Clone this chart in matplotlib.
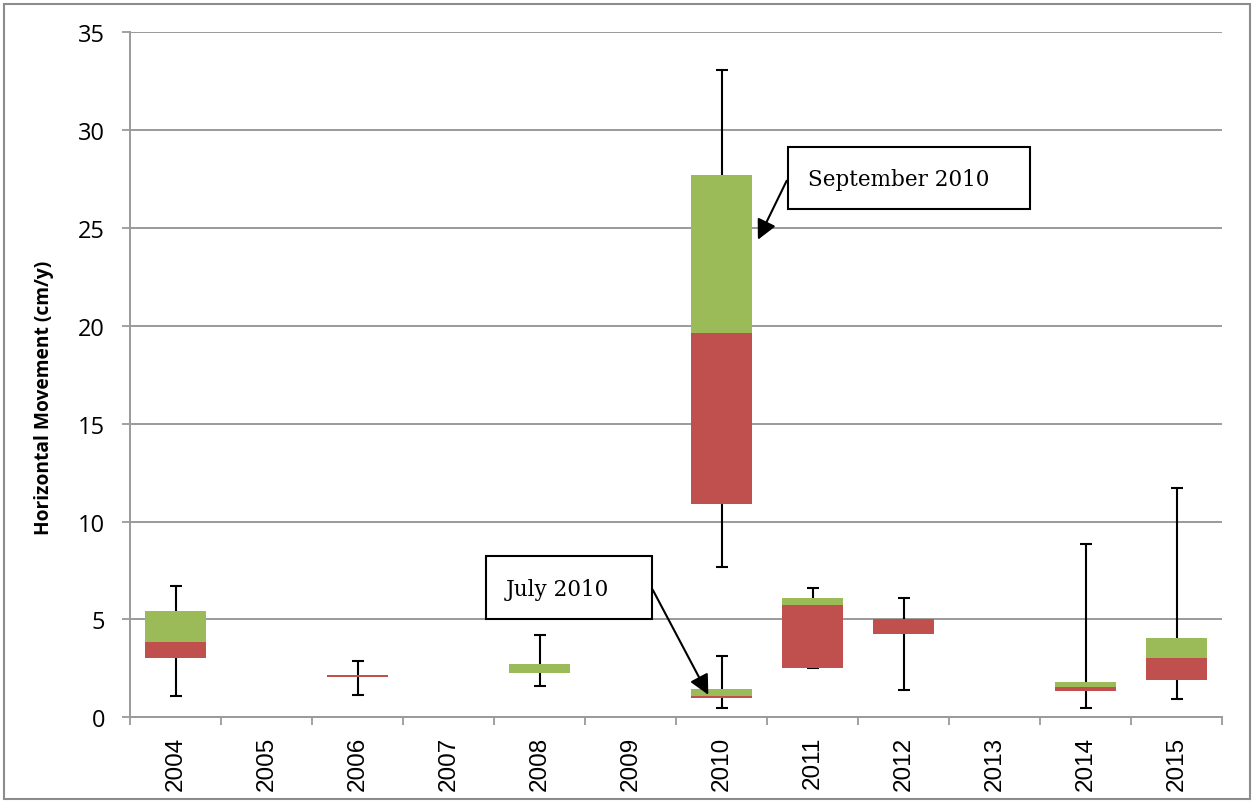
import numpy as np
import matplotlib
matplotlib.use("Agg")
import matplotlib.pyplot as plt
from matplotlib.patches import Rectangle

nan = np.nan
categories = ['2004', '2005', '2006', '2007', '2008', '2009', '2010',
              '2011', '2012', '2013', '2014', '2015']
wmin   = [1.10, nan, 1.14, nan, 1.60, nan, 0.46, 2.52, 1.41, nan, 0.49, 0.95]
q1     = [3.03, nan, 2.08, nan, 2.28, nan, 0.97, 2.52, 4.26, nan, 1.36, 1.91]
median = [3.83, nan, 2.18, nan, 2.28, nan, 1.07, 5.75, 5.02, nan, 1.56, 3.03]
q3     = [5.45, nan, 2.18, nan, 2.72, nan, 1.45, 6.10, 5.02, nan, 1.79, 4.05]
wmax   = [6.69, nan, 2.86, nan, 4.21, nan, 3.12, 6.61, 6.11, nan, 8.87, 11.70]

# September 2010 survey (drawn at the 2010 category)
sep_category = '2010'
sep_min, sep_q1, sep_median, sep_q3, sep_max = 7.70, 10.88, 19.62, 27.73, 33.09

RED = '#C0504D'
GREEN = '#9BBB59'
GRID = '#9A9A9A'

W, H = 1254, 803
fig = plt.figure(figsize=(W / 100, H / 100), dpi=100)
ax = fig.add_axes([130 / W, 1 - 718.3 / H, (1222 - 130) / W, (718.3 - 33.3) / H])

x = np.arange(len(categories))
wmin_a, q1_a, med_a, q3_a, wmax_a = map(np.array, (wmin, q1, median, q3, wmax))
valid = ~np.isnan(q1_a)

bw = 0.68
# whiskers (behind boxes)
ax.errorbar(x[valid], med_a[valid],
            yerr=[med_a[valid] - wmin_a[valid], wmax_a[valid] - med_a[valid]],
            fmt='none', ecolor='black', elinewidth=1.5, capsize=4.5, capthick=1.5, zorder=2)
ax.bar(x[valid], (med_a - q1_a)[valid], bottom=q1_a[valid], width=bw, color=RED,
       linewidth=0, zorder=3)
ax.bar(x[valid], (q3_a - med_a)[valid], bottom=med_a[valid], width=bw, color=GREEN,
       linewidth=0, zorder=3)

xs = categories.index(sep_category)
ax.errorbar([xs], [sep_median], yerr=[[sep_median - sep_min], [sep_max - sep_median]],
            fmt='none', ecolor='black', elinewidth=1.5, capsize=4.5, capthick=1.5, zorder=2)
ax.bar([xs], [sep_median - sep_q1], bottom=[sep_q1], width=bw, color=RED, linewidth=0, zorder=3)
ax.bar([xs], [sep_q3 - sep_median], bottom=[sep_median], width=bw, color=GREEN, linewidth=0, zorder=3)

ax.set_xlim(-0.5, len(categories) - 0.5)
ax.set_ylim(0, 35)
ax.set_yticks(np.arange(0, 36, 5))
ax.set_yticklabels([str(v) for v in range(0, 36, 5)], fontfamily='Open Sans', fontsize=17)
ax.yaxis.grid(True, color=GRID, linewidth=1.4, zorder=0)
ax.set_axisbelow(True)

ax.set_xticks(x)
ax.set_xticklabels(categories, rotation=90, fontfamily='Liberation Sans', fontsize=17.5, va='top')
ax.set_xticks(np.arange(-0.5, len(categories), 1), minor=True)
ax.tick_params(axis='x', which='major', length=0, pad=13.5)
ax.tick_params(axis='x', which='minor', length=6, width=1.3, color=GRID, direction='out')
ax.tick_params(axis='y', length=6, width=1.3, color=GRID, pad=12)

for s in ('top', 'right'):
    ax.spines[s].set_visible(False)
for s in ('left', 'bottom'):
    ax.spines[s].set_color(GRID)
    ax.spines[s].set_linewidth(1.4)

ax.set_ylabel('Horizontal Movement (cm/y)', fontfamily='Open Sans', fontweight='bold', fontsize=13.8)
ax.yaxis.set_label_coords((54 - 130) / (1222 - 130), 1 - (397.5 - 33.3) / (718.3 - 33.3))

# chart border
fig.patches.append(Rectangle((4 / W, 1 - 800 / H), 1246 / W, 795 / H, transform=fig.transFigure,
                             fill=False, edgecolor='#8C8C8C', linewidth=1.5))

def fx(px):
    return px / W

def fy(py):
    return 1 - py / H

# September annotation box
fig.patches.append(Rectangle((fx(787.5), fy(210)), (1030 - 787.5) / W, (210 - 147.7) / H,
                             transform=fig.transFigure, fill=True, facecolor='white',
                             edgecolor='black', linewidth=1.5, zorder=5))
fig.text(fx(808), fy(180), 'September 2010', fontfamily='DejaVu Serif', fontsize=15.5,
         va='center', ha='left', zorder=6)
ax.annotate('', xy=(xs + 0.40, 24.4), xycoords='data',
            xytext=(fx(786.7), fy(181.7)), textcoords='figure fraction',
            arrowprops=dict(arrowstyle='-|>', color='black', lw=1.5, mutation_scale=30,
                            shrinkA=0, shrinkB=0), zorder=6)

# July annotation box
fig.patches.append(Rectangle((fx(485.7), fy(620)), (652.3 - 485.7) / W, (620 - 557.3) / H,
                             transform=fig.transFigure, fill=True, facecolor='white',
                             edgecolor='black', linewidth=1.5, zorder=5))
fig.text(fx(506), fy(590), 'July 2010', fontfamily='DejaVu Serif', fontsize=15.5,
         va='center', ha='left', zorder=6)
ax.annotate('', xy=(xs - 0.145, 1.15), xycoords='data',
            xytext=(fx(652.7), fy(590.7)), textcoords='figure fraction',
            arrowprops=dict(arrowstyle='-|>', color='black', lw=1.5, mutation_scale=30,
                            shrinkA=0, shrinkB=0), zorder=6)

fig.savefig('out.png', dpi=100)
